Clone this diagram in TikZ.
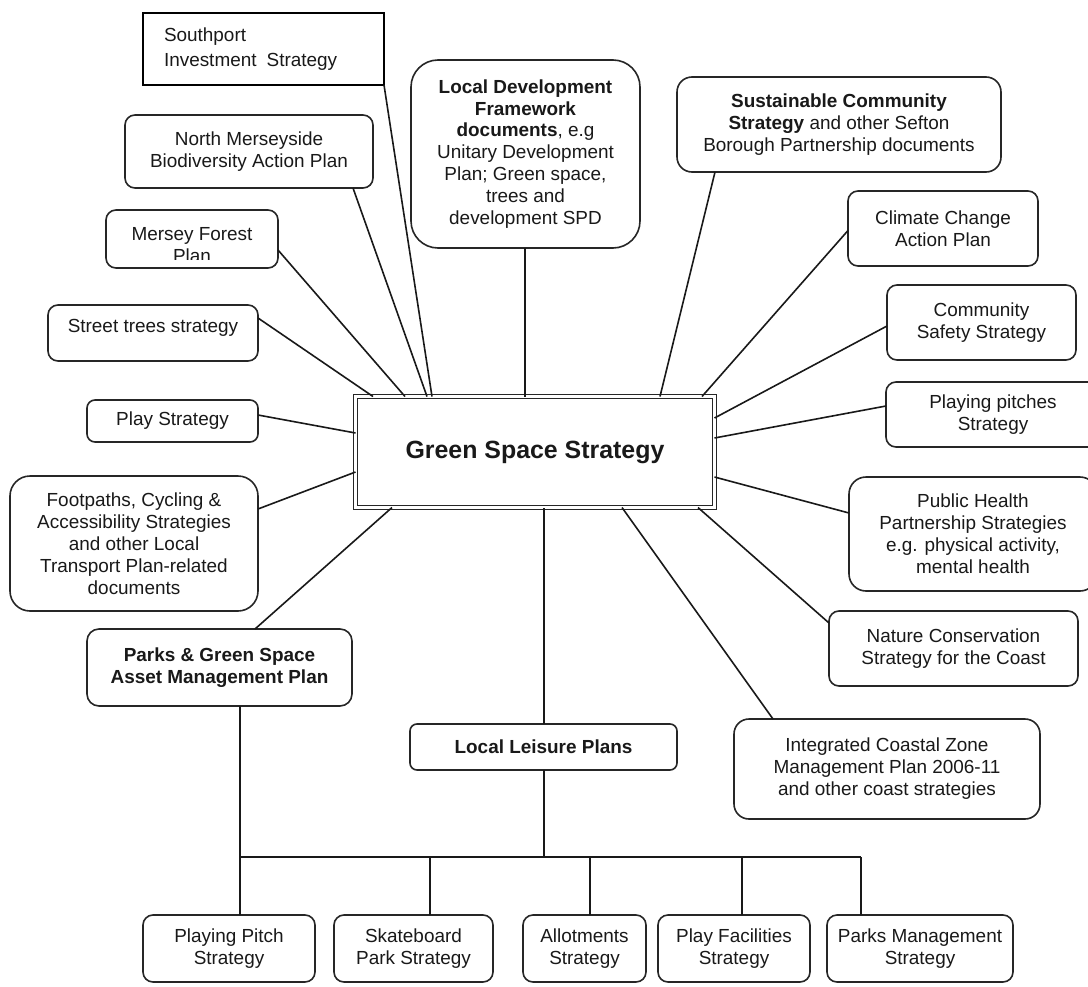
\documentclass[tikz,border=0pt]{standalone}
\usepackage{fontspec}
\setmainfont{Liberation Sans}
\newcommand{\boxfont}{\fontsize{19}{22}\selectfont}
\begin{document}
\begin{tikzpicture}[x=1bp,y=-1bp,
  line width=1.5bp,
  conn/.style={draw=black!90, line width=1.6bp},
  box/.style={draw=black!85, line width=1.6bp, rounded corners=10bp, align=center,
    inner sep=0pt, outer sep=0pt, font=\boxfont, text=black!90, fill=white},
  sqbox/.style={draw=black, line width=1.8bp, align=left, inner xsep=21bp, inner ysep=0pt,
    outer sep=0pt, font=\fontsize{19}{25}\selectfont, text=black!90, fill=white},
  mainbox/.style={draw=black!85, double=white, double distance=2.6bp, line width=1.4bp,
    inner sep=0pt, outer sep=0pt, font=\fontsize{25}{30}\selectfont\bfseries, text=black!90}
]
\useasboundingbox (0,0) rectangle (1088,987);
\clip (0,0) rectangle (1088,987);

% central node
\node[mainbox, minimum width=359bp, minimum height=111bp] (gss) at (535,452) {Green Space Strategy};

% left / top-left
\node[sqbox, minimum width=241bp, minimum height=72bp, text width=199bp] (sip) at (263.5,49)
  {Southport\\Investment\hspace{0.2em} Strategy};
\node[box, minimum width=248bp, minimum height=73bp] (nm) at (249,151.5)
  {North Merseyside\\Biodiversity Action Plan};
\node[box, minimum width=172bp, minimum height=58bp] (mf) at (192,239) {};
\begin{scope}
  \clip (106,210) rectangle (278,259);
  \node[font=\boxfont, align=center, inner sep=0pt, text=black!90] (mftext) at (192,245) {Mersey Forest\\Plan};
\end{scope}
\node[box, minimum width=210bp, minimum height=56bp, text depth=14bp] (st) at (153,333)
  {Street trees strategy};
\node[box, minimum width=171bp, minimum height=42bp, rounded corners=8bp] (ps) at (172.5,421)
  {Play Strategy};
\node[box, minimum width=248bp, minimum height=135bp, rounded corners=20bp] (fp) at (134,543.5)
  {Footpaths, Cycling \&\\Accessibility Strategies\\and other Local\\Transport Plan-related\\documents};
\node[box, minimum width=265bp, minimum height=77bp, rounded corners=12bp] (pgs) at (219.5,667.5)
  {\textbf{Parks \& Green Space}\\\textbf{Asset Management Plan}};

% top
\node[box, minimum width=229bp, minimum height=188bp, rounded corners=27bp] (ldf) at (525.5,154)
  {\textbf{Local Development}\\\textbf{Framework}\\\textbf{documents}, e.g\\Unitary Development\\Plan; Green space,\\trees and\\development SPD};
\node[box, minimum width=324bp, minimum height=95bp, rounded corners=15bp] (scs) at (839,124.5)
  {\textbf{Sustainable Community}\\\textbf{Strategy} and other Sefton\\Borough Partnership documents};

% right
\node[box, minimum width=190bp, minimum height=75bp] (cc) at (943,228.5)
  {Climate Change\\Action Plan};
\node[box, minimum width=189bp, minimum height=75bp] (cs) at (981.5,322.5)
  {Community\\Safety Strategy};
\node[box, minimum width=214bp, minimum height=65bp] (pps) at (993,414.5)
  {Playing pitches\\Strategy};
\node[box, minimum width=248bp, minimum height=114bp, rounded corners=17bp] (ph) at (973,534)
  {Public Health\\Partnership Strategies\\e.g. physical activity,\\mental health};
\node[box, minimum width=249bp, minimum height=75bp] (nc) at (953.5,648.5)
  {Nature Conservation\\Strategy for the Coast};
\node[box, minimum width=306bp, minimum height=100bp, rounded corners=15bp] (icz) at (887,769)
  {Integrated Coastal Zone\\Management Plan 2006-11\\and other coast strategies};

% lower middle
\node[box, minimum width=267bp, minimum height=46bp, rounded corners=7bp] (ll) at (543.5,747)
  {\textbf{Local Leisure Plans}};

% bottom row
\node[box, minimum width=172bp, minimum height=67bp] (pp) at (229,948.5) {Playing Pitch\\Strategy};
\node[box, minimum width=159bp, minimum height=67bp] (sk) at (413.5,948.5) {Skateboard\\Park Strategy};
\node[box, minimum width=123bp, minimum height=67bp] (al) at (584.5,948.5) {Allotments\\Strategy};
\node[box, minimum width=152bp, minimum height=67bp] (pf) at (734,948.5) {Play Facilities\\Strategy};
\node[box, minimum width=186bp, minimum height=67bp] (pm) at (920,948.5) {Parks Management\\Strategy};

% connectors to the central node
\draw[conn] (sip.south east) -- ([xshift=76.5bp]gss.north west);
\draw[conn] ([xshift=-20bp]nm.south east) -- ([xshift=71.5bp]gss.north west);
\draw[conn] ([yshift=-11bp]mf.east) -- ([xshift=49.5bp]gss.north west);
\draw[conn] ([yshift=15bp]st.east) -- ([xshift=17.5bp]gss.north west);
\draw[conn] ([yshift=6bp]ps.east) -- ([yshift=-36.5bp]gss.north west);
\draw[conn] ([yshift=34.5bp]fp.east) -- ([yshift=-75.5bp]gss.north west);
\draw[conn] ([xshift=35.5bp]pgs.north) -- ([xshift=36.5bp]gss.south west);
\draw[conn] ([xshift=-0.5bp]ldf.south) -- ([xshift=-0.5bp]ldf.south |- gss.north);
\draw[conn] ([xshift=-124bp]scs.south) -- ([xshift=-54.5bp]gss.north east);
\draw[conn] ([yshift=-2bp]cc.west) -- ([xshift=-12.5bp]gss.north east);
\draw[conn] ([yshift=-3.5bp]cs.west) -- ([yshift=-21.5bp]gss.north east);
\draw[conn] ([yshift=8.5bp]pps.west) -- ([yshift=-41.5bp]gss.north east);
\draw[conn] ([yshift=21bp]ph.west) -- ([yshift=-80.5bp]gss.north east);
\draw[conn] ([yshift=25.5bp]nc.west) -- ([xshift=-16.5bp]gss.south east);
\draw[conn] ([xshift=-114bp]icz.north) -- ([xshift=-92.5bp]gss.south east);
\draw[conn] ([xshift=0.5bp]ll.north) -- ([xshift=0.5bp]ll.north |- gss.south);

% lower tree
\coordinate (busL) at (240,857);
\coordinate (busR) at (861,857);
\draw[conn] (busL) -- (busR);
\draw[conn] ([xshift=20.5bp]pgs.south) -- ([xshift=11bp]pp.north);
\draw[conn] ([xshift=0.5bp]ll.south) -- ([xshift=0.5bp]ll.south |- busL);
\draw[conn] ([xshift=16.5bp]sk.north) -- ([xshift=16.5bp]sk.north |- busL);
\draw[conn] ([xshift=5.5bp]al.north) -- ([xshift=5.5bp]al.north |- busL);
\draw[conn] ([xshift=8bp]pf.north) -- ([xshift=8bp]pf.north |- busL);
\draw[conn] ([xshift=-59bp]pm.north) -- (busR);
\end{tikzpicture}
\end{document}
